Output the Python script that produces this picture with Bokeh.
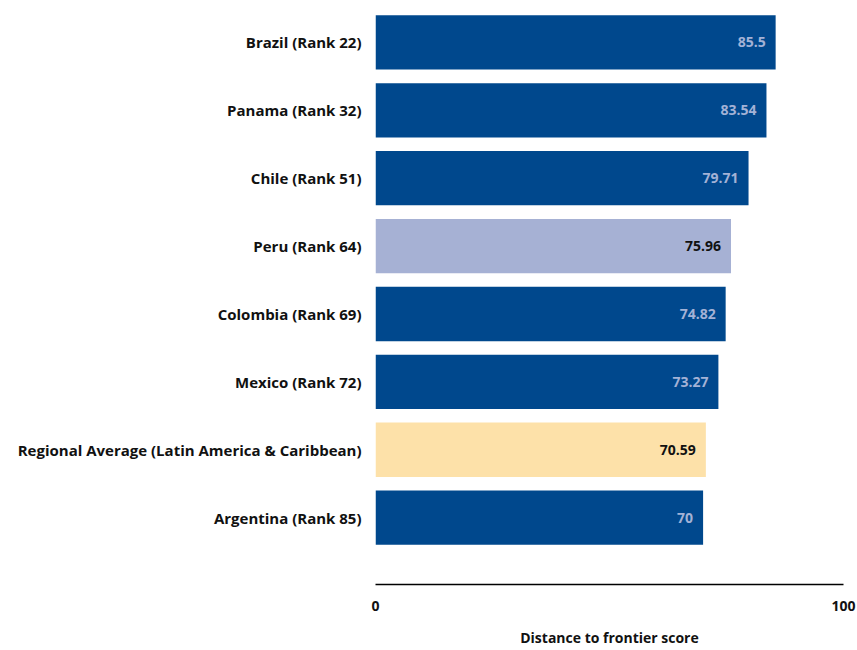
from bokeh.plotting import figure
from bokeh.models import ColumnDataSource, FixedTicker, Range1d
from bokeh.core.properties import value
from bokeh.embed import file_html
from bokeh.resources import INLINE

countries = ["Brazil (Rank 22)", "Panama (Rank 32)", "Chile (Rank 51)", "Peru (Rank 64)",
             "Colombia (Rank 69)", "Mexico (Rank 72)",
             "Regional Average (Latin America & Caribbean)", "Argentina (Rank 85)"]
scores = [85.5, 83.54, 79.71, 75.96, 74.82, 73.27, 70.59, 70]
score_labels = ["85.5", "83.54", "79.71", "75.96", "74.82", "73.27", "70.59", "70"]
x_ticks = [0, 100]

DARK = "#00488D"
bar_colors = [DARK, DARK, DARK, "#A6B1D4", DARK, DARK, "#FDE1A9", DARK]
label_colors = ["#A3B2D6", "#A3B2D6", "#A3B2D6", "#111111", "#A3B2D6", "#A3B2D6", "#111111", "#A3B2D6"]

n = len(countries)
ypos = [n - 1 - i for i in range(n)]

src = ColumnDataSource(dict(y=ypos, score=scores, txt=score_labels,
                            color=bar_colors, tcolor=label_colors))

FONT = "Open Sans"

p = figure(width=857, height=650, output_backend="svg", toolbar_location=None,
           x_range=Range1d(0, 100), y_range=Range1d(-0.985, 7.5),
           min_border_left=375, min_border_right=14, min_border_top=8, min_border_bottom=66)
p.outline_line_color = None
p.grid.grid_line_color = None
p.background_fill_color = "white"
p.border_fill_color = "white"

p.hbar(y="y", right="score", left=0, height=0.8, fill_color="color", line_color=None, source=src)
p.text(x="score", y="y", text="txt", text_color="tcolor", source=src,
       text_align="right", text_baseline="middle", x_offset=-10,
       text_font=value(FONT), text_font_style="bold", text_font_size="14px")

# x axis
xa = p.xaxis[0]
xa.ticker = FixedTicker(ticks=x_ticks)
xa.axis_line_color = "black"
xa.axis_line_width = 1.5
xa.major_tick_line_color = None
xa.minor_tick_line_color = None
xa.major_label_standoff = 10
xa.major_label_text_font = FONT
xa.major_label_text_font_style = "bold"
xa.major_label_text_font_size = "14px"
xa.major_label_text_color = "#111111"
xa.axis_label = "Distance to frontier score"
xa.axis_label_text_font = FONT
xa.axis_label_text_font_style = "bold"
xa.axis_label_text_font_size = "14px"
xa.axis_label_text_color = "#111111"
xa.axis_label_standoff = 14

# y axis with country names
ya = p.yaxis[0]
ya.ticker = FixedTicker(ticks=ypos)
ya.major_label_overrides = {y: c for y, c in zip(ypos, countries)}
ya.axis_line_color = None
ya.major_tick_line_color = None
ya.minor_tick_line_color = None
ya.major_label_standoff = 8
ya.major_label_text_font = FONT
ya.major_label_text_font_style = "bold"
ya.major_label_text_font_size = "15px"
ya.major_label_text_color = "#111111"

open("out.html", "w").write(file_html(p, INLINE))
